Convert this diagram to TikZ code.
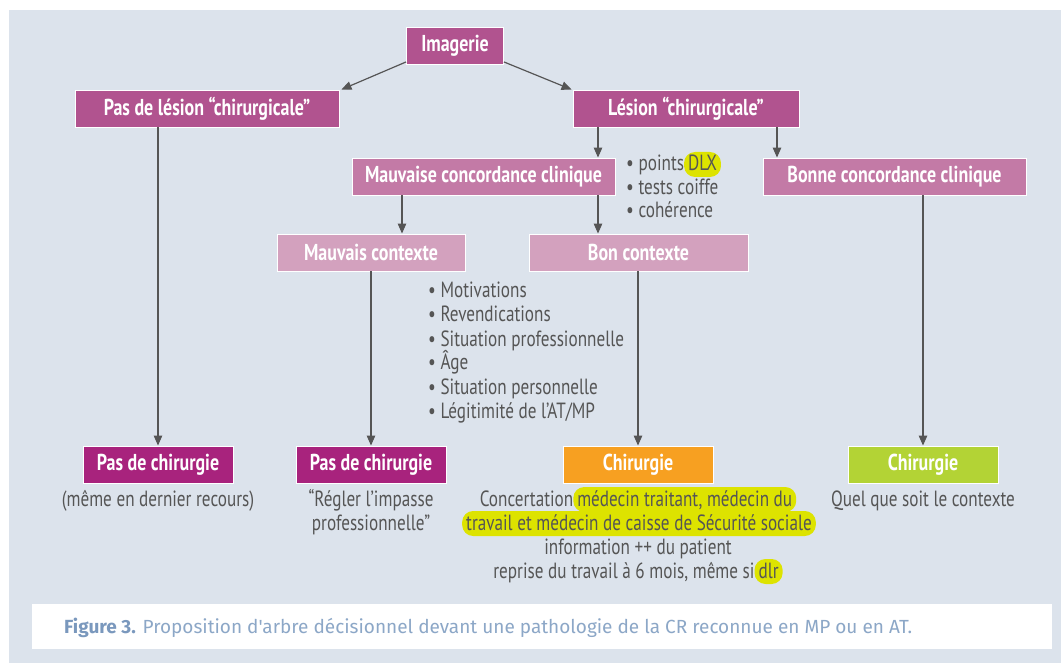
\documentclass[tikz,border=0pt]{standalone}
\usepackage{fontspec}
\setmainfont{PT Sans}[FakeStretch=0.78]
\newfontfamily\capfont{Fira Sans}
\usetikzlibrary{arrows.meta}
\definecolor{bg}{HTML}{DCE3EC}
\definecolor{magA}{HTML}{B1538F}
\definecolor{magB}{HTML}{C37AA6}
\definecolor{magC}{HTML}{D3A1BE}
\definecolor{magD}{HTML}{A8237D}
\definecolor{orng}{HTML}{F7A021}
\definecolor{grn}{HTML}{B3D335}
\definecolor{hl}{HTML}{DDE300}
\definecolor{txt}{HTML}{555555}
\definecolor{arrc}{HTML}{555555}
\definecolor{capA}{HTML}{7A98BD}
\definecolor{capB}{HTML}{8CA7C7}
\tikzset{
  box/.style={draw=white, line width=0.9pt, text=white, font=\bfseries\fontsize{23}{26}\selectfont, inner sep=0pt, minimum height=37pt},
  conn/.style={draw=arrc, line width=1.2pt, -{Triangle[length=10pt,width=8.5pt]}},
  body/.style={text=txt, font=\fontsize{22}{24}\selectfont, inner sep=0pt},
  hlbox/.style={fill=hl, rounded corners=11pt, inner xsep=4pt, inner ysep=0pt, text height=19pt, text depth=6pt, text=txt},
}
\newcommand{\hlx}[2]{\tikz[baseline=(#1.base)]\node[hlbox](#1){#2};}
\begin{document}
\begin{tikzpicture}[x=1pt,y=-1pt]
\useasboundingbox (0,0) rectangle (1061,663);
\fill[white] (0,0) rectangle (1061,663);
\fill[bg] (9,10) rectangle (1061,663);
\fill[white] (32,604) rectangle (1052,649);

% boxes
\node[box, fill=magA, minimum width=97pt]  (img)  at (455,46)    {Imagerie};
\node[box, fill=magA, minimum width=264pt] (pdl)  at (207,108.5) {Pas de lésion “chirurgicale”};
\node[box, fill=magA, minimum width=226pt] (les)  at (686,108.5) {Lésion “chirurgicale”};
\node[box, fill=magB, minimum width=263pt] (mcc)  at (483.5,176.5) {Mauvaise concordance clinique};
\node[box, fill=magB, minimum width=263pt] (bcc)  at (894.5,176.5) {Bonne concordance clinique};
\node[box, fill=magC, minimum width=188pt] (mctx) at (371,252.5) {Mauvais contexte};
\node[box, fill=magC, minimum width=219pt] (bctx) at (638.5,252.5) {Bon contexte};
\node[box, fill=magD, minimum width=150pt] (pc1)  at (158,464.5) {Pas de chirurgie};
\node[box, fill=magD, minimum width=150pt] (pc2)  at (371,464.5) {Pas de chirurgie};
\node[box, fill=orng, minimum width=150pt] (ch1)  at (638,464.5) {Chirurgie};
\node[box, fill=grn,  minimum width=150pt] (ch2)  at (923,464.5) {Chirurgie};

% column coordinates
\coordinate (x158) at (158,0);
\coordinate (x371) at (371,0);
\coordinate (x402) at (402,0);
\coordinate (x598) at (598,0);
\coordinate (x638) at (638,0);
\coordinate (x777) at (777,0);
\coordinate (x923) at (923,0);

% connectors
\draw[conn] ([yshift=3pt]img.south west) -- ([xshift=2pt]pdl.north east);
\draw[conn] ([yshift=3pt]img.south east) -- ([xshift=-1pt]les.north west);
\draw[conn] (les.south -| x598) -- (mcc.north -| x598);
\draw[conn] (les.south -| x777) -- (bcc.north -| x777);
\draw[conn] (mcc.south -| x402) -- (mctx.north -| x402);
\draw[conn] (mcc.south -| x598) -- (bctx.north -| x598);
\draw[conn] (pdl.south -| x158) -- (pc1.north -| x158);
\draw[conn] (mctx.south -| x371) -- (pc2.north -| x371);
\draw[conn] (bctx.south -| x638) -- (ch1.north -| x638);
\draw[conn] (bcc.south -| x923) -- (ch2.north -| x923);

% upper bullet list
\node[body, anchor=base west] (u1) at (626,171)   {• points\hlx{dlx}{DLX}};
\node[body, anchor=base west] (u2) at (626,194.5) {• tests coiffe};
\node[body, anchor=base west] (u3) at (626,218)   {• cohérence};

% lower bullet list
\node[body, anchor=base west] (l1) at (428,298) {• Motivations};
\node[body, anchor=base west] (l2) at (428,322) {• Revendications};
\node[body, anchor=base west] (l3) at (428,346) {• Situation professionnelle};
\node[body, anchor=base west] (l4) at (428,370) {• Âge};
\node[body, anchor=base west] (l5) at (428,394) {• Situation personnelle};
\node[body, anchor=base west] (l6) at (428,418) {• Légitimité de l’AT/MP};

% texts under the outcomes
\node[body, anchor=base] (t1)  at (158,506) {(même en dernier recours)};
\node[body, anchor=base] (t2a) at (371,506) {“Régler l’impasse};
\node[body, anchor=base] (t2b) at (371,530) {professionnelle”};
\node[body, anchor=base] (t3a) at (638,506) {Concertation\hlx{hla}{médecin traitant, médecin du}};
\node[hlbox, body, inner xsep=4pt, anchor=base] (t3b) at (639,530) {travail et médecin de caisse de Sécurité sociale};
\node[body, anchor=base] (t3c) at (638,554) {information ++ du patient};
\node[body, anchor=base] (t3d) at (638,578) {reprise du travail à 6 mois, même si\hlx{hlb}{dlr}};
\node[body, anchor=base] (t4)  at (923,506) {Quel que soit le contexte};

% caption
\node[anchor=base west, inner sep=0pt, font=\capfont\fontsize{19}{22}\selectfont] (cap) at (64,633)
  {\textcolor{capA}{\bfseries Figure 3.} \textcolor{capB}{Proposition d{\char"0027}arbre décisionnel devant une pathologie de la CR reconnue en MP ou en AT.}};
\end{tikzpicture}
\end{document}
